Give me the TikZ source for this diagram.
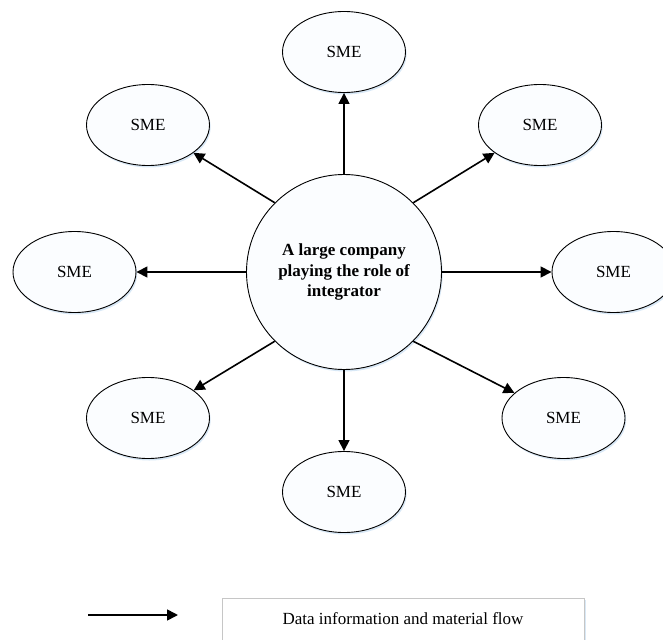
\documentclass[tikz,border=0pt]{standalone}
\usepackage{fontspec}
\setmainfont{Liberation Serif}
\usetikzlibrary{shapes.geometric,arrows.meta,shadows}
\definecolor{shapefill}{HTML}{FBFDFF}
\definecolor{glowblue}{HTML}{A9CBEB}
\begin{document}
\begin{tikzpicture}[x=1pt,y=-1pt,
  font=\fontsize{17}{20.5}\selectfont,
  glow/.style={drop shadow={shadow xshift=1.2pt,shadow yshift=-2pt,fill=glowblue,opacity=0.45}},
  sme/.style={ellipse,draw=black,line width=0.9pt,fill=shapefill,
    minimum width=123pt,minimum height=81pt,inner sep=0pt,glow},
  hub/.style={circle,draw=black,line width=0.9pt,fill=shapefill,
    minimum size=195pt,inner sep=0pt,align=center,
    font=\fontsize{17}{20.5}\selectfont\bfseries,glow},
  flow/.style={line width=1.6pt,-{Triangle[length=11pt,width=11pt]}},
  keybox/.style={draw=gray!45,line width=0.8pt,fill=white,
    minimum width=362pt,minimum height=62pt,inner sep=0pt,glow},
]
\useasboundingbox (0,0) rectangle (663,639);

% integrator in the middle
\node[hub] (hub) at (344,272) {A large company\\playing the role of\\integrator};

% surrounding SMEs
\node[sme] (n)  at (344,52)    {SME};
\node[sme] (nw) at (148,125)   {SME};
\node[sme] (ne) at (540,125)   {SME};
\node[sme] (w)  at (74.5,272)  {SME};
\node[sme] (e)  at (613.5,272) {SME};
\node[sme] (sw) at (148,418)   {SME};
\node[sme] (se) at (563.5,418) {SME};
\node[sme] (s)  at (344,492)   {SME};

% flows out of the integrator
\draw[flow] (hub.north) -- (n);
\draw[flow] (hub.135)   -- (nw);
\draw[flow] (hub.45)    -- (ne);
\draw[flow] (hub.west)  -- (w);
\draw[flow] (hub.east)  -- (e);
\draw[flow] (hub.225)   -- (sw);
\draw[flow] (hub.-45)   -- (se);
\draw[flow] (hub.south) -- (s);

% legend
\coordinate (la) at (88,615);
\coordinate (lb) at (178,615);
\draw[flow] (la) -- (lb);
\node[keybox,anchor=north west] (key) at (222,598) {};
\node[anchor=base] (keytext) at (403,624) {Data information and material flow};
\end{tikzpicture}
\end{document}
